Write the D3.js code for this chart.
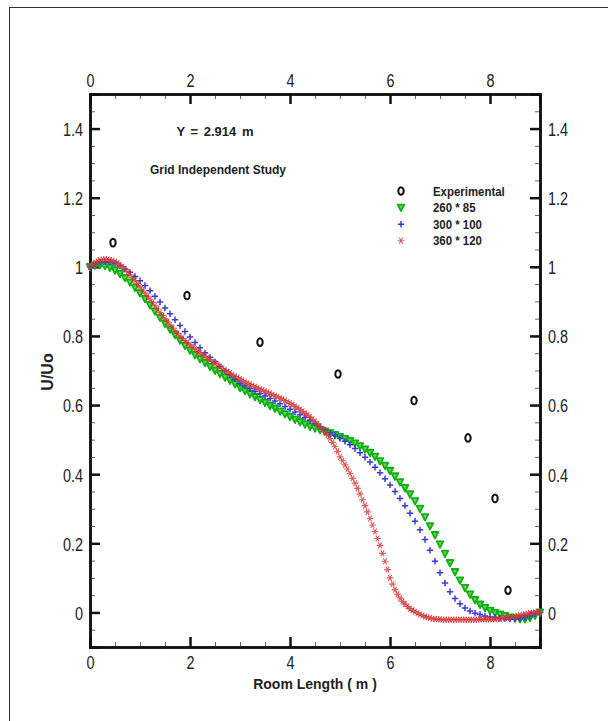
<!DOCTYPE html>
<meta charset="utf-8">
<style>
  body { margin: 0; background: #fff; }
  .tick-label { font: 19px "Liberation Sans Narrow", "Arial Narrow", "Liberation Sans", sans-serif; fill: #222; }
  .note { font: bold 12px "Liberation Sans", Arial, sans-serif; fill: #222; }
  .axis-title { font: bold 14px "Liberation Sans", Arial, sans-serif; fill: #222; }
</style>
<svg width="608" height="721"></svg>
<script src="https://d3js.org/d3.v7.min.js"></script>
<script>
// room length positions (m) of the 260*85 and 300*100 profiles
var xPos = [0.0,0.1,0.2,0.3,0.4,0.5,0.6,0.7,0.8,0.9,1.0,1.1,1.2,1.3,1.4,1.5,1.6,1.7,1.8,1.9,
  2.0,2.1,2.2,2.3,2.4,2.5,2.6,2.7,2.8,2.9,3.0,3.1,3.2,3.3,3.4,3.5,3.6,3.7,3.8,3.9,
  4.0,4.1,4.2,4.3,4.4,4.5,4.6,4.7,4.8,4.9,5.0,5.1,5.2,5.3,5.4,5.5,5.6,5.7,5.8,5.9,
  6.0,6.1,6.2,6.3,6.4,6.5,6.6,6.7,6.8,6.9,7.0,7.1,7.2,7.3,7.4,7.5,7.6,7.7,7.8,7.9,
  8.0,8.1,8.2,8.3,8.4,8.5,8.6,8.7,8.8,8.9,9.0];

// finer positions of the 360*120 profile
var xFine = [0.00,0.05,0.10,0.15,0.20,0.25,0.30,0.35,0.40,0.45,0.50,0.55,0.60,0.65,0.70,0.75,0.80,0.85,0.90,0.95,
  1.00,1.05,1.10,1.15,1.20,1.25,1.30,1.35,1.40,1.45,1.50,1.55,1.60,1.65,1.70,1.75,1.80,1.85,1.90,1.95,
  2.00,2.05,2.10,2.15,2.20,2.25,2.30,2.35,2.40,2.45,2.50,2.55,2.60,2.65,2.70,2.75,2.80,2.85,2.90,2.95,
  3.00,3.05,3.10,3.15,3.20,3.25,3.30,3.35,3.40,3.45,3.50,3.55,3.60,3.65,3.70,3.75,3.80,3.85,3.90,3.95,
  4.00,4.05,4.10,4.15,4.20,4.25,4.30,4.35,4.40,4.45,4.50,4.55,4.60,4.65,4.70,4.75,4.80,4.85,4.90,4.95,
  5.00,5.05,5.10,5.15,5.20,5.25,5.30,5.35,5.40,5.45,5.50,5.55,5.60,5.65,5.70,5.75,5.80,5.85,5.90,5.95,
  6.00,6.05,6.10,6.15,6.20,6.25,6.30,6.35,6.40,6.45,6.50,6.55,6.60,6.65,6.70,6.75,6.80,6.85,6.90,6.95,
  7.00,7.05,7.10,7.15,7.20,7.25,7.30,7.35,7.40,7.45,7.50,7.55,7.60,7.65,7.70,7.75,7.80,7.85,7.90,7.95,
  8.00,8.05,8.10,8.15,8.20,8.25,8.30,8.35,8.40,8.45,8.50,8.55,8.60,8.65,8.70,8.75,8.80,8.85,8.90,8.95,
  9.00];

var grid260 = [1.000,1.004,1.005,1.003,0.998,0.990,0.980,0.968,0.955,0.940,
  0.924,0.907,0.889,0.871,0.853,0.836,0.819,0.803,0.787,0.772,
  0.758,0.745,0.733,0.722,0.711,0.700,0.690,0.680,0.671,0.661,
  0.650,0.641,0.632,0.624,0.615,0.607,0.598,0.590,0.582,0.574,
  0.566,0.558,0.551,0.544,0.538,0.533,0.528,0.524,0.519,0.514,
  0.508,0.502,0.496,0.489,0.481,0.472,0.462,0.451,0.438,0.425,
  0.410,0.394,0.377,0.360,0.342,0.322,0.300,0.276,0.250,0.224,
  0.197,0.170,0.143,0.117,0.093,0.071,0.052,0.036,0.023,0.013,
  0.005,-0.001,-0.006,-0.010,-0.014,-0.017,-0.019,-0.019,-0.016,-0.009,0.000];

var grid300 = [1.000,1.008,1.013,1.015,1.014,1.010,1.003,0.994,0.984,0.972,
  0.960,0.946,0.931,0.915,0.898,0.881,0.864,0.847,0.830,0.813,
  0.797,0.781,0.766,0.751,0.738,0.725,0.712,0.699,0.687,0.675,
  0.663,0.655,0.647,0.640,0.633,0.626,0.619,0.612,0.604,0.596,
  0.588,0.580,0.572,0.564,0.556,0.547,0.538,0.528,0.520,0.512,
  0.504,0.495,0.485,0.474,0.462,0.449,0.435,0.420,0.404,0.387,
  0.369,0.350,0.330,0.309,0.287,0.264,0.239,0.211,0.180,0.148,
  0.115,0.085,0.060,0.040,0.025,0.013,0.004,-0.002,-0.006,-0.010,
  -0.013,-0.015,-0.017,-0.018,-0.019,-0.019,-0.018,-0.015,-0.010,-0.004,0.000];

var grid360 = [1.000,1.006,1.012,1.016,1.019,1.021,1.022,1.021,1.020,1.018,1.015,1.011,1.006,1.000,0.993,0.985,0.977,0.969,0.960,0.951,
  0.942,0.933,0.924,0.915,0.906,0.897,0.887,0.878,0.868,0.859,0.850,0.841,0.832,0.823,0.815,0.807,0.800,0.793,0.786,0.780,
  0.774,0.768,0.762,0.756,0.751,0.746,0.741,0.736,0.731,0.726,0.721,0.716,0.711,0.706,0.701,0.696,0.692,0.687,0.683,0.679,
  0.675,0.671,0.667,0.663,0.660,0.656,0.653,0.649,0.646,0.643,0.640,0.637,0.634,0.630,0.627,0.624,0.620,0.617,0.613,0.609,
  0.605,0.601,0.596,0.592,0.587,0.582,0.576,0.571,0.565,0.559,0.552,0.545,0.538,0.530,0.522,0.513,0.503,0.492,0.480,0.466,
  0.450,0.439,0.427,0.415,0.402,0.388,0.374,0.359,0.343,0.326,0.309,0.291,0.272,0.253,0.234,0.214,0.194,0.171,0.148,0.124,
  0.100,0.082,0.066,0.053,0.042,0.032,0.024,0.017,0.011,0.006,0.002,-0.002,-0.006,-0.009,-0.012,-0.014,-0.016,-0.018,-0.019,-0.020,
  -0.020,-0.021,-0.021,-0.021,-0.021,-0.021,-0.021,-0.021,-0.021,-0.021,-0.021,-0.021,-0.021,-0.021,-0.021,-0.021,-0.020,-0.020,-0.020,-0.020,
  -0.020,-0.020,-0.019,-0.019,-0.018,-0.017,-0.016,-0.015,-0.014,-0.013,-0.011,-0.010,-0.008,-0.007,-0.005,-0.004,-0.002,-0.001,0.000,0.000,
  0.000];

var expX = [0.46, 1.94, 3.40, 4.96, 6.48, 7.56, 8.10, 8.36];
var expY = [1.070, 0.917, 0.782, 0.690, 0.613, 0.505, 0.330, 0.064];

var xTicks = [0, 2, 4, 6, 8];
var yTicks = [0, 0.2, 0.4, 0.6, 0.8, 1, 1.2, 1.4];
var legendLabels = ["Experimental", "260 * 85", "300 * 100", "360 * 120"];

var svg = d3.select("svg");

// outer frame (runs off the right/bottom of the picture)
svg.append("rect")
  .attr("x", 9.5).attr("y", 7.5)
  .attr("width", 700).attr("height", 800)
  .attr("fill", "none").attr("stroke", "#333").attr("stroke-width", 1);

var pLeft = 90, pRight = 540, pTop = 94, pBottom = 647;
var x = d3.scaleLinear().domain([0, 9]).range([pLeft, pRight]);
var y = d3.scaleLinear().domain([-0.1, 1.5]).range([pBottom, pTop]);

var g = svg.append("g");
var squeeze = 0.76; // narrow tick digits

function fmt(v) { return d3.format("~g")(v); }

// axes: ticks inward on all four sides
var xMinor = d3.range(0, 9.01, 0.5);
var yMinor = d3.range(-0.1, 1.501, 0.05).map(function (v) { return Math.round(v * 100) / 100; });

var placements = [
  [d3.axisBottom, x, xTicks, xMinor, "translate(0," + pBottom + ")"],
  [d3.axisTop, x, xTicks, xMinor, "translate(0," + pTop + ")"],
  [d3.axisLeft, y, yTicks, yMinor, "translate(" + pLeft + ",0)"],
  [d3.axisRight, y, yTicks, yMinor, "translate(" + pRight + ",0)"]
];

placements.forEach(function (p) {
  var minorAxis = p[0](p[1]).tickValues(p[3]).tickSize(-5).tickFormat("");
  var majorAxis = p[0](p[1]).tickValues(p[2]).tickSize(-10).tickFormat(fmt);
  [minorAxis, majorAxis].forEach(function (ax, i) {
    var a = g.append("g").attr("transform", p[4]).call(ax);
    a.attr("font-size", null).attr("font-family", null);
    a.select(".domain").attr("stroke", "#111").attr("stroke-width", 2.5);
    a.selectAll(".tick line").attr("stroke", i ? "#111" : "#666")
      .attr("stroke-width", i ? 2.5 : 1);
    if (!i) return;
    var t = a.selectAll(".tick text").attr("class", "tick-label")
      .attr("transform", "scale(" + squeeze + ",1)");
    if (p[0] === d3.axisLeft) t.attr("x", -7 / squeeze).attr("dy", "0.36em");
    if (p[0] === d3.axisRight) t.attr("x", 8 / squeeze).attr("dy", "0.36em");
    if (p[0] === d3.axisBottom) t.attr("y", 7).attr("dy", "0.8em");
    if (p[0] === d3.axisTop) t.attr("y", -7).attr("dy", "0");
  });
});

// marker painters
function drawExp(sel) {
  sel.append("ellipse").attr("rx", 2.7).attr("ry", 3.8)
    .attr("fill", "#fff").attr("stroke", "#111").attr("stroke-width", 2);
}
function drawTri(sel) {
  sel.append("path").attr("d", "M-3.3,-3 L3.3,-3 L0,3.5 Z")
    .attr("fill", "#5ad85a").attr("stroke", "#12b012").attr("stroke-width", 1.8)
    .attr("stroke-linejoin", "round");
}
function drawPlus(sel) {
  sel.append("path").attr("d", "M-3.2,0 L3.2,0 M0,-3.2 L0,3.2")
    .attr("stroke", "#3a3ad8").attr("stroke-width", 1.5);
}
function drawStar(sel) {
  sel.append("path").attr("d", "M-3.4,0 L3.4,0 M-1.7,-3 L1.7,3 M-1.7,3 L1.7,-3")
    .attr("stroke", "#d43636").attr("stroke-width", 1.1).attr("stroke-opacity", 0.8);
}

function series(xs, ys, painter) {
  var pts = xs.map(function (v, i) { return [v, ys[i]]; });
  g.append("g").selectAll("g")
    .data(pts)
    .enter().append("g")
    .attr("transform", function (d) { return "translate(" + x(d[0]) + "," + y(d[1]) + ")"; })
    .each(function () { painter(d3.select(this)); });
}

series(xPos, grid260, drawTri);
series(xPos, grid300, drawPlus);
series(xFine, grid360, drawStar);
series(expX, expY, drawExp);

// notes
svg.append("text").attr("class", "note").attr("x", 215).attr("y", 136)
  .attr("text-anchor", "middle").style("font-size", "13px").style("word-spacing", "2px")
  .text("Y = 2.914 m");
svg.append("text").attr("class", "note").attr("x", 218).attr("y", 174)
  .attr("text-anchor", "middle").text("Grid Independent Study");

// legend
var painters = [drawExp, drawTri, drawPlus, drawStar];
legendLabels.forEach(function (lab, i) {
  var ly = 191 + i * 16.6;
  var m = svg.append("g").attr("transform", "translate(401," + ly + ")");
  painters[i](m);
  svg.append("text").attr("class", "note")
    .attr("transform", "translate(433," + (ly + 4.5) + ") scale(0.88,1)")
    .style("font-size", "13px").text(lab);
});

// axis titles
svg.append("text").attr("class", "axis-title")
  .attr("transform", "translate(53,372) rotate(-90)")
  .attr("text-anchor", "middle").style("font-size", "16px").text("U/Uo");
svg.append("text").attr("class", "axis-title").attr("x", 315).attr("y", 689)
  .attr("text-anchor", "middle").text("Room Length ( m )");
</script>
